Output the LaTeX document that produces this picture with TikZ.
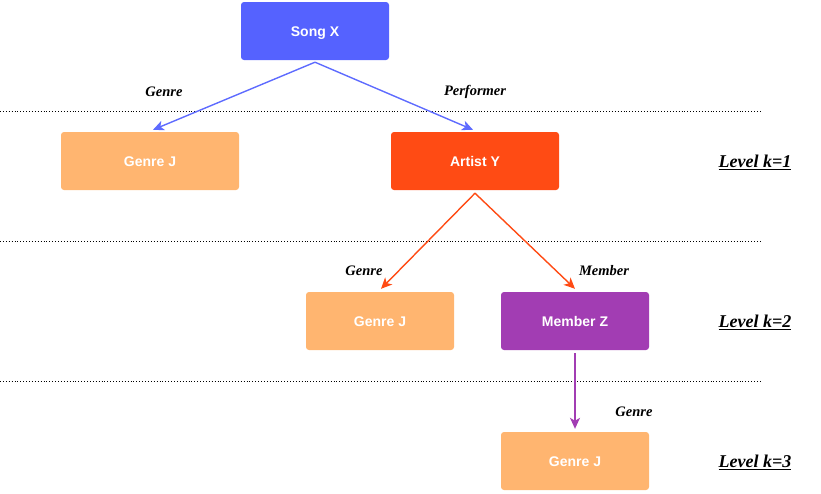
\documentclass[tikz,border=0pt]{standalone}
\usepackage{fontspec}
\setmainfont{Liberation Serif}
\setsansfont{Liberation Sans}
\usepackage{xcolor}
\definecolor{songBlue}{HTML}{5562FF}
\definecolor{genreLight}{HTML}{FFB570}
\definecolor{artistRed}{HTML}{FF4B14}
\definecolor{memberPurple}{HTML}{A23DB3}
\definecolor{arrowBlue}{HTML}{5E6BFF}
\usetikzlibrary{%
    arrows.meta,
    positioning,
    calc
}

\begin{document}
\begin{tikzpicture}[x=1pt, y=-1pt,
                entity/.style={rectangle, rounded corners=3pt, minimum width=148pt, minimum height=58pt, text centered, text=white, font=\sffamily\bfseries\fontsize{14}{16}\selectfont, inner sep=0pt, text height=10pt, text depth=0pt},
                relation/.style={font=\bfseries\itshape\fontsize{14.5}{16}\selectfont, inner sep=0pt},
                level/.style={font=\bfseries\itshape\fontsize{18}{20}\selectfont, inner sep=0pt},
                link/.style={draw, line width=1.4pt, -{Stealth[length=11pt, width=10pt, inset=3pt]}},
                separator/.style={draw, dotted, line width=0.9pt}
            ]

            \useasboundingbox (0,0) rectangle (821,493);

            % entities
            \node (song) at (315,31) [entity, fill=songBlue] {Song X};
            \node (genre1) at (150,161) [entity, fill=genreLight, minimum width=178pt] {Genre J};
            \node (artist) at (475,161) [entity, fill=artistRed, minimum width=168pt] {Artist Y};
            \node (genre2) at (380,321) [entity, fill=genreLight] {Genre J};
            \node (member) at (575,321) [entity, fill=memberPurple] {Member Z};
            \node (genre3) at (575,461) [entity, fill=genreLight] {Genre J};

            % levels
            \node (level1) at (755,162) [level] {\underline{Level k=1}};
            \node (level2) at (755,322) [level] {\underline{Level k=2}};
            \node (level3) at (755,462) [level] {\underline{Level k=3}};

            % separators
            \draw [separator] (0,111) -- (760,111);
            \draw [separator] (0,241) -- (760,241);
            \draw [separator] (0,381) -- (760,381);

            % links
            \draw [link, arrowBlue] ($(song.south)+(0,2)$) -- ($(genre1.north)+(3,-2)$);
            \draw [link, arrowBlue] ($(song.south)+(0,2)$) -- ($(artist.north)+(-2,-2)$);
            \draw [link, artistRed] ($(artist.south)+(0,3)$) -- ($(genre2.north)+(1,-3)$);
            \draw [link, artistRed] ($(artist.south)+(0,3)$) -- ($(member.north)+(0,-3)$);
            \draw [link, memberPurple] ($(member.south)+(0,3)$) -- ($(genre3.north)+(0,-3)$);

            \node (lgenre1) at (164,92) [relation] {Genre};
            \node (lperf) at (475,92) [relation] {Performer};
            \node (lgenre2) at (364,271) [relation] {Genre};
            \node (lmember) at (604,271) [relation] {Member};
            \node (lgenre3) at (634,412) [relation] {Genre};
        \end{tikzpicture}
\end{document}
